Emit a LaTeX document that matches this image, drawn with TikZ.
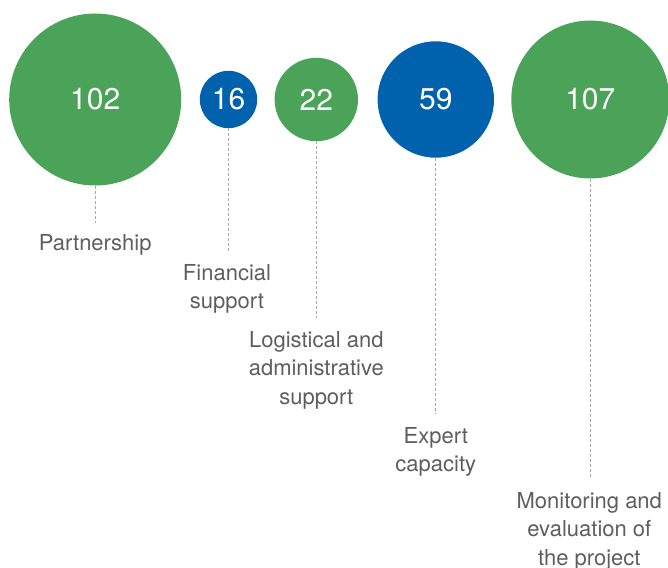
\documentclass[tikz,border=0pt]{standalone}
\usepackage{fontspec}
\setmainfont{TeX Gyre Heros}
\definecolor{cgreen}{HTML}{4BA35A}
\definecolor{cblue}{HTML}{0061AD}
\definecolor{ltext}{HTML}{5E5E5E}
\definecolor{ldash}{HTML}{A8A8A8}
\tikzset{
  bubble/.style={circle, inner sep=0pt, minimum size=#1, text=white,
    font=\fontsize{30}{36}\selectfont},
  gbub/.style={bubble=#1, fill=cgreen},
  bbub/.style={bubble=#1, fill=cblue},
  lbl/.style={anchor=base, inner sep=0pt, text=ltext,
    font=\fontsize{22}{28.5}\selectfont},
  lead/.style={draw=ldash, line width=0.9pt, dash pattern=on 3pt off 2pt}
}
\newcommand{\lbltab}[1]{\begin{tabular}[t]{@{}c@{}}#1\end{tabular}}
\begin{document}
\begin{tikzpicture}[x=1pt, y=-1pt]
  \useasboundingbox (0,0) rectangle (668,567);
  % bubbles
  \node[gbub=172pt] (b102) at (95.2,99.5) {102};
  \node[bbub=57.4pt] (b16) at (228.5,99.5) {16};
  \node[gbub=83.4pt] (b22) at (316.3,99.5) {22};
  \node[bbub=116.4pt] (b59) at (435.8,99.5) {59};
  \node[gbub=158pt] (b107) at (590.3,99.5) {107};
  % free ends of leaders
  \coordinate (e102) at (95.2,222.7);
  \coordinate (e16) at (228.5,252.7);
  \coordinate (e22) at (316.3,318.3);
  \coordinate (e59) at (435.8,413.3);
  \coordinate (e107) at (590.3,476.7);
  \draw[lead] (b102.south) -- (e102);
  \draw[lead] (b16.south) -- (e16);
  \draw[lead] (b22.south) -- (e22);
  \draw[lead] (b59.south) -- (e59);
  \draw[lead] (b107.south) -- (e107);
  % labels
  \node[lbl] (l102) at (95.2,250.7) {\lbltab{Partnership}};
  \node[lbl] (l16) at (227,280) {\lbltab{Financial\\support}};
  \node[lbl] (l22) at (316.3,347.3) {\lbltab{Logistical and\\administrative\\support}};
  \node[lbl] (l59) at (435.8,443.3) {\lbltab{Expert\\capacity}};
  \node[lbl] (l107) at (589.3,508) {\lbltab{Monitoring and\\evaluation of\\the project}};
\end{tikzpicture}
\end{document}
